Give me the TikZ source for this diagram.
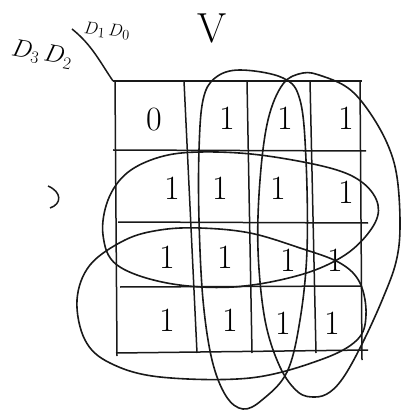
\documentclass[tikz,border=0pt]{standalone}
\usepackage{tikz}
\usepackage{amsmath}
\usepackage{amssymb}

\begin{document}
\begin{tikzpicture}[x=1pt,y=-1pt,
	gitter/.style={line width=1.5pt, black!90},
	schleife/.style={line width=1.6pt, black!90},
	eintrag/.style={font=\fontsize{34}{34}\selectfont, inner sep=0pt}]
\useasboundingbox (0,0) rectangle (404,411);

	% Zeichnet die Beschriftung der Variablen oben links
	\node[font=\fontsize{23}{23}\selectfont, rotate=-10, inner sep=0pt] (zeilen) at (42,54) {$D_3\,D_2$};
	\node[font=\fontsize{19}{19}\selectfont, rotate=-5, inner sep=0pt] (spalten) at (107,31) {$D_1\,D_0$};

	% Zeichnet den Schraegstrich zur Ecke der Tafel
	\coordinate (ecke) at (113,81);
	\draw[gitter] (72,29) .. controls (92,45) and (100,62) .. (ecke);

	% Zeichnet das V oben
	\node[font=\fontsize{42}{42}\selectfont, inner sep=0pt] (vau) at (212,28) {V};

	% Zeichnet die waagerechten Linien der Tafel
	\draw[gitter] (ecke) -- (362,81);
	\draw[gitter] (113,150) -- (366,151);
	\draw[gitter] (118,222) -- (368,223);
	\draw[gitter] (120,287) -- (362,286);
	\draw[gitter] (116,353) -- (368,350);

	% Zeichnet die senkrechten Linien der Tafel
	\draw[gitter] (115,81) -- (117,356);
	\draw[gitter] (184,81) -- (197,353);
	\draw[gitter] (247,81) -- (252,353);
	\draw[gitter] (310,81) -- (316,353);
	\draw[gitter] (360,81) -- (362,360);

	% Schreibt die Werte in die Felder
	\node[eintrag] (m0) at (154,120) {0};
	\node[eintrag] (m1) at (227,118) {1};
	\node[eintrag] (m3) at (285,118) {1};
	\node[eintrag] (m2) at (346,118) {1};
	\node[eintrag] (m4) at (172,188) {1};
	\node[eintrag] (m5) at (220,188) {1};
	\node[eintrag] (m7) at (278,188) {1};
	\node[eintrag] (m6) at (346,192) {1};
	\node[eintrag] (m12) at (167,257) {1};
	\node[eintrag] (m13) at (225,257) {1};
	\node[eintrag] (m15) at (288,260) {1};
	\node[eintrag] (m14) at (335,260) {1};
	\node[eintrag] (m8) at (167,320) {1};
	\node[eintrag] (m9) at (230,320) {1};
	\node[eintrag] (m11) at (283,323) {1};
	\node[eintrag] (m10) at (332,323) {1};

	% Zeichnet Schleife 1 (Spalten 2 und 3)
	\draw[schleife] plot[smooth cycle, tension=0.6] coordinates {(240,70) (283,78) (300,100) (306,160) (307,250) (300,320) (287,372) (262,400) (243,409) (226,396) (212,360) (203,300) (199,220) (199,150) (203,100) (215,78)};

	% Zeichnet Schleife 2 (Spalten 3 und 4, nach rechts ausgebeult)
	\draw[schleife] plot[smooth cycle, tension=0.6] coordinates {(303,73) (322,76) (348,88) (368,110) (387,143) (397,177) (400,227) (396,262) (383,298) (364,340) (345,375) (330,392) (315,397) (298,392) (280,367) (265,320) (258,250) (260,180) (268,120) (283,84)};

	% Zeichnet Schleife 3 (Zeilen 2 und 3)
	\draw[schleife] plot[smooth cycle, tension=0.6] coordinates {(160,157) (200,152) (260,155) (330,168) (363,183) (378,205) (372,228) (345,255) (300,275) (233,287) (167,283) (117,265) (103,235) (108,200) (127,173)};

	% Zeichnet Schleife 4 (Zeilen 3 und 4)
	\draw[schleife] plot[smooth cycle, tension=0.6] coordinates {(200,228) (250,233) (300,248) (340,263) (360,283) (366,315) (357,340) (320,360) (250,378) (160,377) (110,363) (85,340) (77,300) (90,265) (125,240) (160,230)};

	% Zeichnet die kleine Klammer links
	\draw[gitter] (48,186) .. controls (62,192) and (62,204) .. (50,208);

\end{tikzpicture}
\end{document}
